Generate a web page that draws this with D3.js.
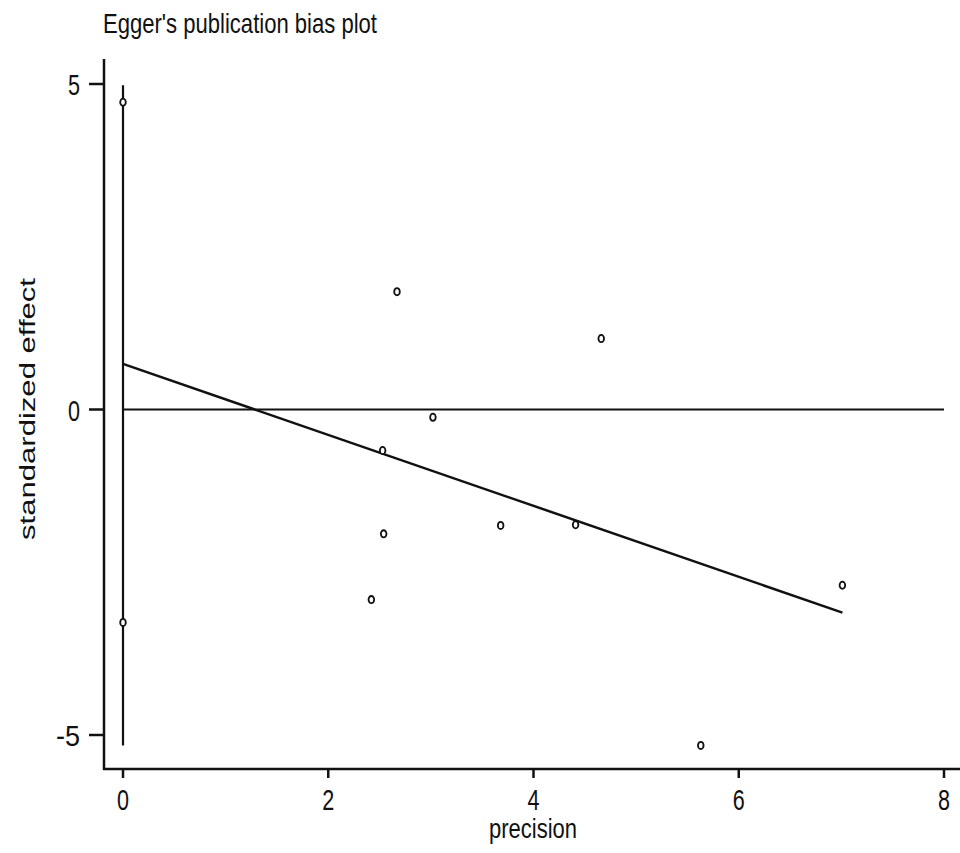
<!DOCTYPE html>
<html>
<head>
<meta charset="utf-8">
<script src="https://cdn.jsdelivr.net/npm/d3@7"></script>
<style>
  body { margin: 0; background: #fff; }
  text { font-family: "Liberation Sans", Arial, sans-serif; fill: #111; }
</style>
</head>
<body>
<div id="chart"></div>
<script>
// data
var precision = [0, 0, 2.67, 3.02, 2.53, 2.54, 2.42, 3.68, 4.66, 4.41, 7.01, 5.63];
var stdEffect = [4.72, -3.27, 1.81, -0.12, -0.63, -1.91, -2.92, -1.78, 1.09, -1.77, -2.70, -5.16];
var xTicks = [0, 2, 4, 6, 8];
var yTicks = [-5, 0, 5];
var interceptCI = [-5.16, 4.98];
var regX = [0, 7.01];
var regY = [0.70, -3.12];

var svgWidth = 960, svgHeight = 853;

var svg = d3.select("#chart")
    .append("svg")
    .attr("width", svgWidth)
    .attr("height", svgHeight);

// scales
var xScale = d3.scaleLinear().domain([0, 8]).range([123, 944]);
var yScale = d3.scaleLinear().domain([-5, 5]).range([735, 84]);

var axisX = 104, axisY = 769;

// axes lines
svg.append("line")
    .attr("x1", axisX).attr("x2", axisX)
    .attr("y1", 59).attr("y2", axisY + 1)
    .attr("stroke", "#111").attr("stroke-width", 2.5);

svg.append("line")
    .attr("x1", axisX - 1).attr("x2", 960)
    .attr("y1", axisY).attr("y2", axisY)
    .attr("stroke", "#111").attr("stroke-width", 2.5);

// y ticks
svg.selectAll(".ytick")
    .data(yTicks)
    .enter()
    .append("line")
    .attr("x1", axisX - 15).attr("x2", axisX)
    .attr("y1", d => yScale(d)).attr("y2", d => yScale(d))
    .attr("stroke", "#111").attr("stroke-width", 2.5);

svg.selectAll(".ylab")
    .data(yTicks)
    .enter()
    .append("text")
    .attr("x", 80)
    .attr("y", d => yScale(d) + 11)
    .attr("text-anchor", "end")
    .attr("font-size", "30px")
    .attr("textLength", d => String(d).length * 12)
    .attr("lengthAdjust", "spacingAndGlyphs")
    .text(d => d);

// x ticks
svg.selectAll(".xtick")
    .data(xTicks)
    .enter()
    .append("line")
    .attr("x1", d => xScale(d)).attr("x2", d => xScale(d))
    .attr("y1", axisY).attr("y2", axisY + 9)
    .attr("stroke", "#111").attr("stroke-width", 2.5);

svg.selectAll(".xlab")
    .data(xTicks)
    .enter()
    .append("text")
    .attr("x", d => xScale(d))
    .attr("y", 810)
    .attr("text-anchor", "middle")
    .attr("font-size", "30px")
    .attr("textLength", 12)
    .attr("lengthAdjust", "spacingAndGlyphs")
    .text(d => d);

// horizontal zero line
svg.append("line")
    .attr("x1", xScale(0)).attr("x2", xScale(8))
    .attr("y1", yScale(0)).attr("y2", yScale(0))
    .attr("stroke", "#111").attr("stroke-width", 2.2);

// intercept CI at precision 0
svg.append("line")
    .attr("x1", xScale(0)).attr("x2", xScale(0))
    .attr("y1", yScale(interceptCI[0])).attr("y2", yScale(interceptCI[1]))
    .attr("stroke", "#111").attr("stroke-width", 2.2);

// regression line
var reg = regX.map((x, i) => [x, regY[i]]);
svg.append("path")
    .datum(reg)
    .attr("d", d3.line().x(d => xScale(d[0])).y(d => yScale(d[1])))
    .attr("fill", "none")
    .attr("stroke", "#111")
    .attr("stroke-width", 2.5);

// points
var pts = precision.map((p, i) => ({ x: p, y: stdEffect[i] }));
svg.selectAll(".pt")
    .data(pts)
    .enter()
    .append("ellipse")
    .attr("cx", d => xScale(d.x))
    .attr("cy", d => yScale(d.y))
    .attr("rx", 2.8)
    .attr("ry", 3.6)
    .attr("fill", "#fff")
    .attr("stroke", "#111")
    .attr("stroke-width", 1.8);

// title and axis labels
svg.append("text")
    .attr("x", 103)
    .attr("y", 33)
    .attr("font-size", "28px")
    .attr("textLength", 274)
    .attr("lengthAdjust", "spacingAndGlyphs")
    .text("Egger's publication bias plot");

svg.append("text")
    .attr("x", 533)
    .attr("y", 838)
    .attr("text-anchor", "middle")
    .attr("font-size", "27px")
    .attr("textLength", 88)
    .attr("lengthAdjust", "spacingAndGlyphs")
    .text("precision");

svg.append("text")
    .attr("transform", "translate(35, 409) rotate(-90)")
    .attr("text-anchor", "middle")
    .attr("font-size", "22px")
    .attr("textLength", 262)
    .attr("lengthAdjust", "spacingAndGlyphs")
    .text("standardized effect");
</script>
</body>
</html>
